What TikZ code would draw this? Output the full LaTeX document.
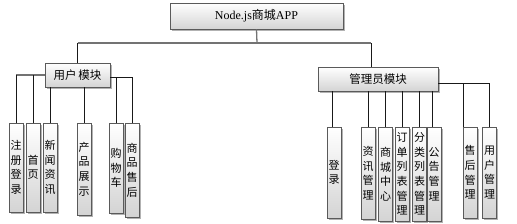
\documentclass[tikz,border=0pt]{standalone}
\usepackage{fontspec}
\setmainfont{Liberation Serif}
\newfontfamily\cjk{Noto Sans CJK SC}
\usetikzlibrary{shadows,calc}
\tikzset{
  box/.style={draw={rgb,255:red,90;green,90;blue,90}, line width=0.8pt,
    top color=white, bottom color={rgb,255:red,212;green,212;blue,212},
    drop shadow={shadow xshift=1.5pt, shadow yshift=-1.5pt, fill=gray!60, opacity=1},
    inner sep=0pt},
  leaf/.style={box, minimum width=14pt, align=center, font=\cjk\fontsize{11}{14.6}\selectfont},
  modbox/.style={box, font=\cjk\fontsize{11.5}{14}\selectfont},
  conn/.style={draw={rgb,255:red,25;green,25;blue,25}, line width=0.8pt},
  trunk/.style={draw={rgb,255:red,115;green,115;blue,115}, line width=1.3pt},
}
\begin{document}
\begin{tikzpicture}[x=1pt,y=-1pt]
\useasboundingbox (0,0) rectangle (517,223);
% top
\node[box, minimum width=173pt, minimum height=26pt, font=\fontsize{12}{14}\selectfont] (app) at (256.5,16) {Node.js{\cjk 商城}APP};
% modules
\node[modbox, minimum width=65pt, minimum height=24pt] (um) at (77.5,75) {用户\,模块};
\node[modbox, minimum width=120pt, minimum height=24pt] (am) at (378,79) {管理员模块};
% user leaves
\node[leaf, minimum height=89pt] (l1) at (16,167.5) {注\\册\\登\\录};
\node[leaf, minimum height=89pt] (l2) at (33,167.5) {首\\页};
\node[leaf, minimum height=89pt] (l3) at (50,167.5) {新\\闻\\资\\讯};
\node[leaf, minimum height=92pt] (l4) at (84,169) {产\\品\\展\\示};
\node[leaf, minimum height=90pt] (l5) at (116,168) {购\\物\\车};
\node[leaf, minimum height=94pt] (l6) at (132,170) {商\\品\\售\\后};
% admin leaves
\node[leaf, minimum height=91pt] (a1) at (334,172.5) {登\\录};
\node[leaf, minimum height=92pt] (a2) at (368,173) {资\\讯\\管\\理};
\node[leaf, minimum height=94pt] (a3) at (385.5,174) {商\\城\\中\\心};
\node[leaf, minimum height=94pt] (a4) at (402,174) {订\\单\\列\\表\\管\\理};
\node[leaf, minimum height=94pt] (a5) at (419.5,174) {分\\类\\列\\表\\管\\理};
\node[leaf, minimum height=94pt] (a6) at (434,174) {公\\告\\管\\理};
\node[leaf, minimum height=91pt] (a7) at (470,172.5) {售\\后\\管\\理};
\node[leaf, minimum height=91pt] (a8) at (489.5,172.5) {用\\户\\管\\理};
% trunk
\coordinate (j) at (257,43);
\coordinate (ja) at (371,43);
\draw[trunk] (app.south) -- (j);
\draw[trunk] (um.north |- j) -- (ja);
\draw[conn] (um.north |- j) -- (um.north);
\draw[conn] (ja) -- (ja |- am.north);
% user module connectors
\draw[trunk] (um.west) -- (um.west -| l1.north);
\draw[conn] (um.west -| l1.north) -- (l1.north);
\draw[conn] (um.west -| l2.north) -- (l2.north);
\draw[conn] (l3.north |- um.south) -- (l3.north);
\draw[conn] (l4.north |- um.south) -- (l4.north);
\draw[conn] ([yshift=-2pt]um.east) -| (l6.north);
\draw[conn] ([yshift=-2pt]um.east -| l5.north) -- (l5.north);
% admin module connectors
\draw[conn] ([xshift=-2pt]a1.north |- am.south) -- ([xshift=-2pt]a1.north);
\draw[conn] (a2.north |- am.south) -- (a2.north);
\draw[conn] (a3.north |- am.south) -- (a3.north);
\draw[conn] (a4.north |- am.south) -- (a4.north);
\draw[conn] (a5.north |- am.south) -- (a5.north);
\draw[conn] ([xshift=-2pt]a6.north |- am.south) -- ([xshift=-2pt]a6.north);
\draw[conn] ([yshift=-4pt]am.east) -| (a8.north);
\draw[conn] ([yshift=-4pt]am.east -| a7.north west) ++(1pt,0) -- ([xshift=1pt]a7.north west);
\end{tikzpicture}
\end{document}
